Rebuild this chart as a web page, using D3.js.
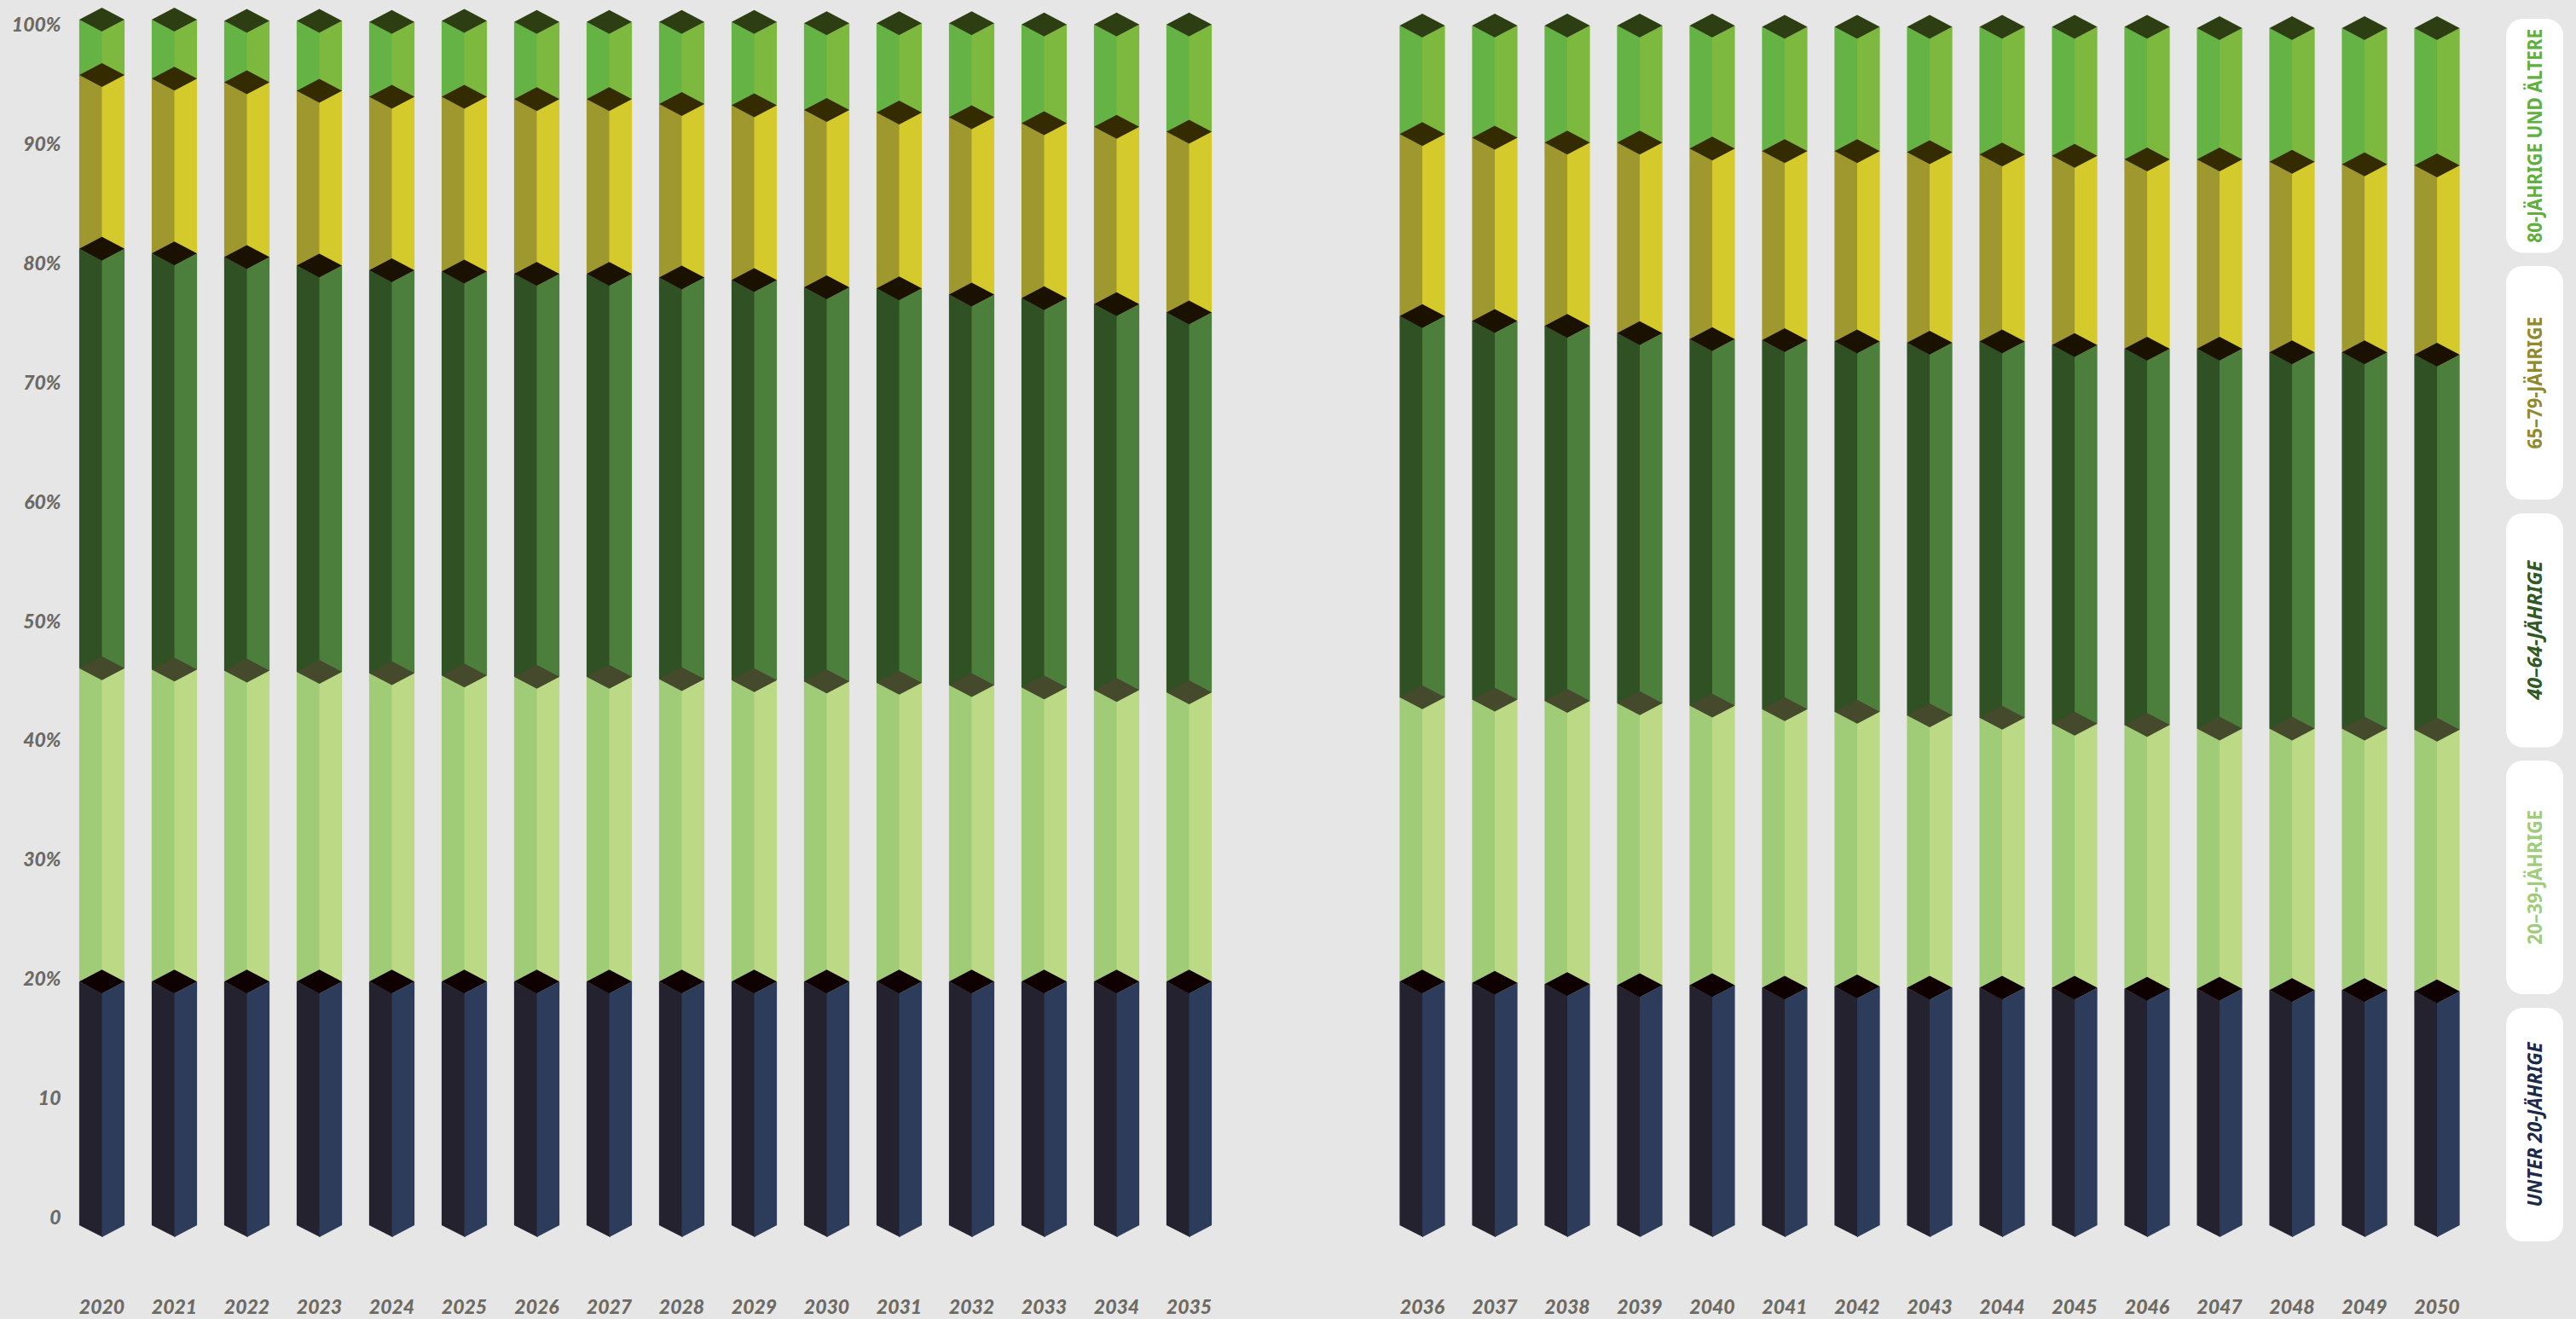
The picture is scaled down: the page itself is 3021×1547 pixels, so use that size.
<!DOCTYPE html>
<html lang="de">
<head>
<meta charset="utf-8">
<title>Bevölkerung nach Altersgruppen 2020–2050</title>
<script src="https://cdn.jsdelivr.net/npm/d3@7"></script>
<style>
  html, body { margin: 0; padding: 0; background: #e6e6e6; }
  svg { display: block; }
  .tick-label { font-family: Lato, sans-serif; font-weight: 900; font-style: italic; font-size: 23px; fill: #6c6a63; }
  .legend-label { font-family: "Noto Sans", sans-serif; font-weight: 700; font-size: 23px; }
</style>
</head>
<body>
<svg id="chart" width="3021" height="1547"></svg>
<script>
// Share of each age group per year, in percent
const years = [2020,2021,2022,2023,2024,2025,2026,2027,2028,2029,2030,2031,2032,2033,2034,2035,
               2036,2037,2038,2039,2040,2041,2042,2043,2044,2045,2046,2047,2048,2049,2050];
const under20 = [20.2,20.2,20.2,20.2,20.2,20.2,20.2,20.2,20.2,20.2,20.2,20.2,20.2,20.2,20.2,20.2,
                 20.2,20.1,20.0,19.9,19.9,19.7,19.8,19.7,19.7,19.7,19.6,19.6,19.5,19.5,19.4];
const age20to39 = [26.0,25.9,25.8,25.7,25.6,25.4,25.3,25.3,25.1,25.0,24.9,24.8,24.6,24.4,24.2,24.0,
                   23.6,23.5,23.5,23.4,23.2,23.1,22.8,22.6,22.4,21.9,21.9,21.6,21.7,21.7,21.7];
const age40to64 = [34.8,34.5,34.3,33.7,33.4,33.5,33.4,33.4,33.3,33.2,32.7,32.7,32.4,32.3,32.0,31.5,
                   31.6,31.4,31.1,30.7,30.4,30.6,30.7,30.9,31.2,31.4,31.2,31.5,31.2,31.2,31.1];
const age65to79 = [14.4,14.5,14.5,14.5,14.4,14.5,14.5,14.5,14.4,14.5,14.7,14.6,14.7,14.5,14.7,15.0,
                   15.1,15.2,15.2,15.8,15.8,15.7,15.8,15.8,15.5,15.7,15.7,15.7,15.8,15.6,15.7];
const age80plus = [4.6,4.9,5.1,5.8,6.2,6.3,6.4,6.4,6.8,6.9,7.2,7.4,7.8,8.2,8.5,8.9,
                   9.0,9.3,9.7,9.7,10.2,10.3,10.3,10.4,10.6,10.7,11.0,10.9,11.1,11.3,11.4];

const groupKeys = ["under20", "age20to39", "age40to64", "age65to79", "age80plus"];
const groupLabels = ["UNTER 20-JÄHRIGE", "20–39-JÄHRIGE", "40–64-JÄHRIGE", "65–79-JÄHRIGE", "80-JÄHRIGE UND ÄLTERE"];
const percentTicks = [0, 10, 20, 30, 40, 50, 60, 70, 80, 90, 100];

// Face colours of each prism: left side, right side, top cap
const faceColors = {
  under20:   { left: "#23222e", right: "#2c3c5a", top: "#0f0002", text: "#1b2c4b" },
  age20to39: { left: "#a0cc78", right: "#bcd986", top: "#454a2d", text: "#9fcd7b" },
  age40to64: { left: "#2f5124", right: "#4c7f3c", top: "#1b1100", text: "#2f5a25" },
  age65to79: { left: "#9f982f", right: "#d5ca2b", top: "#352b00", text: "#8f8a2c" },
  age80plus: { left: "#65b345", right: "#7db93f", top: "#2d3f12", text: "#5fb03f" }
};

const svg = d3.select("#chart");

// The year axis has a gap between the two blocks of columns
const x = d3.scaleLinear().domain([2020, 2035, 2036, 2050]).range([119.5, 1394.5, 1668, 2858]);
const y = d3.scaleLinear().domain([0, 100]).range([1437, 23]);
const yAxisScale = d3.scaleLinear().domain([0, 100]).range([1428, 29.5]);

const halfWidth = 26.6;
const capDrop = 14;

const rows = years.map((year, i) => ({
  year,
  under20: under20[i],
  age20to39: age20to39[i],
  age40to64: age40to64[i],
  age65to79: age65to79[i],
  age80plus: age80plus[i]
}));
const layers = d3.stack().keys(groupKeys)(rows);

const points = pts => pts.map(p => p.join(",")).join(" ");

// Upper groups first, so each lower cap overlaps the chevron above it
const layerGroups = svg.append("g").attr("class", "columns")
  .selectAll("g").data(layers.slice().reverse()).join("g")
  .attr("class", d => "layer " + d.key);

const segments = layerGroups.selectAll("g")
  .data(d => d.map(seg => ({ key: d.key, year: seg.data.year, y0: seg[0], y1: seg[1] })))
  .join("g");

// The left face runs slightly past the centre line so no seam shows between the faces
segments.append("polygon")
  .attr("fill", d => faceColors[d.key].left)
  .attr("points", d => {
    const c = x(d.year), t = y(d.y1), b = y(d.y0);
    return points([[c - halfWidth, t], [c + 1, t + capDrop], [c + 1, b + capDrop], [c - halfWidth, b]]);
  });
segments.append("polygon")
  .attr("fill", d => faceColors[d.key].right)
  .attr("points", d => {
    const c = x(d.year), t = y(d.y1), b = y(d.y0);
    return points([[c, t + capDrop], [c + halfWidth, t], [c + halfWidth, b], [c, b + capDrop]]);
  });
segments.append("polygon")
  .attr("fill", d => faceColors[d.key].top)
  .attr("points", d => {
    const c = x(d.year), t = y(d.y1);
    return points([[c - halfWidth, t], [c, t - capDrop], [c + halfWidth, t], [c, t + capDrop]]);
  });

// Percentage axis, labels only
const yAxis = d3.axisLeft(yAxisScale)
  .tickValues(percentTicks)
  .tickSize(0)
  .tickPadding(0)
  .tickFormat(d => d <= 10 ? String(d) : d + "%");
const yAxisG = svg.append("g").attr("transform", "translate(71.5,0)").call(yAxis);
yAxisG.select(".domain").remove();
yAxisG.selectAll("text").attr("class", "tick-label").attr("font-size", null).attr("font-family", null);

// Year labels below the columns
svg.append("g").selectAll("text").data(years).join("text")
  .attr("class", "tick-label")
  .attr("text-anchor", "middle")
  .attr("x", d => x(d))
  .attr("y", 1541)
  .text(d => d);

// Legend cards stacked on the right, lowest age group at the bottom
const legendY = [1182, 892, 602, 312, 22];
const legendHeights = [274, 274, 274.5, 274, 274.5];
const legendTextLengths = [193, 158, 163, 155, 251];
const legendSlanted = [true, false, true, false, false];
const legend = svg.append("g").selectAll("g").data(groupKeys).join("g");
legend.append("rect")
  .attr("x", 2939).attr("width", 67)
  .attr("y", (d, i) => legendY[i])
  .attr("height", (d, i) => legendHeights[i])
  .attr("rx", 20).attr("ry", 20)
  .attr("fill", "#ffffff");
legend.append("text")
  .attr("class", "legend-label")
  .attr("text-anchor", "middle")
  .attr("dominant-baseline", "central")
  .attr("fill", d => faceColors[d].text)
  .attr("font-style", (d, i) => legendSlanted[i] ? "italic" : "normal")
  .attr("textLength", (d, i) => legendTextLengths[i])
  .attr("lengthAdjust", "spacingAndGlyphs")
  .attr("transform", (d, i) => `translate(2972,${legendY[i] + legendHeights[i] / 2}) rotate(-90)`)
  .text((d, i) => groupLabels[i]);
</script>
</body>
</html>
